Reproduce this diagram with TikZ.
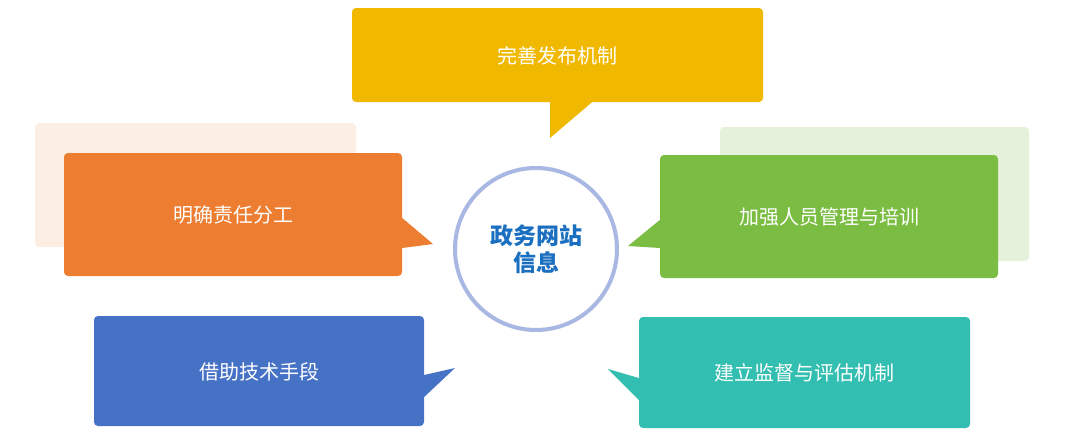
\documentclass[tikz,border=0pt]{standalone}
\usepackage{fontspec}
\setmainfont{Noto Sans CJK SC}
\usepackage{tikz}
\usetikzlibrary{calc}

\definecolor{pubyellow}{RGB}{240,185,0}
\definecolor{dutyorange}{RGB}{237,125,49}
\definecolor{staffgreen}{RGB}{122,189,66}
\definecolor{techblue}{RGB}{70,114,198}
\definecolor{auditteal}{RGB}{50,190,176}
\definecolor{paleorange}{RGB}{253,238,227}
\definecolor{palegreen}{RGB}{230,241,219}
\definecolor{ringblue}{RGB}{168,184,226}
\definecolor{titleblue}{RGB}{26,111,192}

\tikzset{
  callout/.style = {rounded corners=4pt, inner sep=0pt, text=white, text depth=0pt,
    font=\fontsize{20}{24}\selectfont},
  backbox/.style = {rounded corners=4pt},
}

\begin{document}
\begin{tikzpicture}[x=1pt, y=-1pt]
			\useasboundingbox (0,0) rectangle (1080,442);

			\begin{scope}
				\fill [paleorange, backbox] (35,123) rectangle (356,247);
				\fill [palegreen, backbox] (720,127) rectangle (1029,261);
			\end{scope}

			\node [callout, fill=pubyellow, minimum width=411pt, minimum height=94pt] (pub) at (557.5,55) {完善发布机制};
			\node [callout, fill=dutyorange, minimum width=338pt, minimum height=123pt] (duty) at (233,214.5) {明确责任分工};
			\node [callout, fill=staffgreen, minimum width=338pt, minimum height=123pt] (staff) at (829,216.5) {加强人员管理与培训};
			\node [callout, fill=techblue, minimum width=330pt, minimum height=110pt] (tech) at (259,371) {借助技术手段};
			\node [callout, fill=auditteal, minimum width=331pt, minimum height=111pt] (audit) at (804.5,372.5) {建立监督与评估机制};

			\begin{scope}
				\fill [pubyellow] (pub.south -| 550,0) -- (550,138) -- (pub.south -| 592,0) -- cycle;
				\fill [dutyorange] (duty.east |- 0,218) -- (433,244) -- (duty.east |- 0,248) -- cycle;
				\fill [staffgreen] (staff.west |- 0,220) -- (628,246) -- (staff.west |- 0,248) -- cycle;
				\fill [techblue] (tech.east |- 0,375) -- (455,368) -- (tech.east |- 0,397) -- cycle;
				\fill [auditteal] (audit.west |- 0,378) -- (608,369) -- (audit.west |- 0,400) -- cycle;
			\end{scope}

			\node [circle, draw=ringblue, line width=4pt, fill=white, minimum size=162pt,
			       text=titleblue, align=center, font=\fontsize{23}{27}\selectfont\bfseries] (core) at (536,249) {政务网站\\信息};
		\end{tikzpicture}
\end{document}
